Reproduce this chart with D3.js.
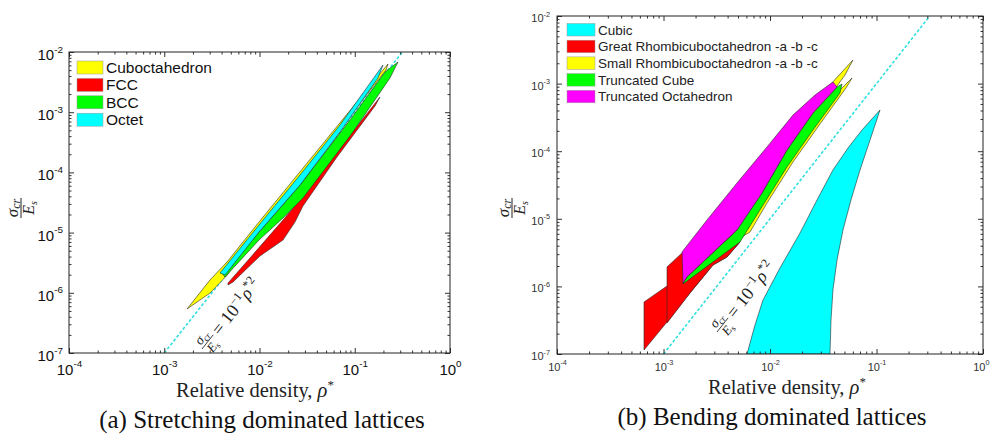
<!DOCTYPE html>
<html>
<head>
<meta charset="utf-8">
<script src="https://cdn.jsdelivr.net/npm/d3@7"></script>
<style>
  body { margin: 0; background: #fff; }
  svg { display: block; }
</style>
</head>
<body>
<svg id="chart" width="990" height="437"></svg>
<script>
// ---------- axis ticks ----------
const rhoTicks = [1e-4, 1e-3, 1e-2, 1e-1, 1];
const rhoTickExp = ["-4", "-3", "-2", "-1", "0"];
const sigmaTicks = [1e-7, 1e-6, 1e-5, 1e-4, 1e-3, 1e-2];
const sigmaTickExp = ["-7", "-6", "-5", "-4", "-3", "-2"];

// reference line  sigma_cr / E_s = 10^-1 rho*^2
const guideCoef = 1e-1;
const guideRho = [1e-3, 0.3163];

// ---------- (a) stretching dominated lattices: envelopes [rho*, sigma_cr/E_s] ----------
const cuboctahedron = [[1.733e-3,5.38e-7],[3.022e-3,1.632e-6],[4.558e-3,3.25e-6],[9.88e-3,1.50e-5],[5.497e-2,4.18e-4],[0.2234,6.32e-3],
  [0.2128,5.02e-3],[5.497e-2,3.20e-4],[9.88e-3,1.105e-5],[4.558e-3,1.95e-6],[3.022e-3,9.9e-7]];
const fcc = [[4.67e-3,1.455e-6],[7.95e-3,3.79e-6],[1.765e-2,1.619e-5],[2.662e-2,3.48e-5],[7.0e-2,2.54e-4],[0.1841,1.789e-3],
  [0.1632,1.268e-3],[6.51e-2,1.80e-4],[2.862e-2,2.77e-5],[2.359e-2,1.50e-5],[1.765e-2,7.53e-6],[1.012e-2,4.09e-6],[5.27e-3,1.511e-6],[4.67e-3,1.348e-6]];
const bcc = [[4.04e-3,2.13e-6],[9.88e-3,1.023e-5],[2.662e-2,6.17e-5],[8.91e-2,7.42e-4],[0.2078,4.65e-3],[0.2844,6.82e-3],
  [0.2345,3.70e-3],[8.91e-2,4.02e-4],[2.862e-2,3.76e-5],[1.765e-2,1.748e-5],[9.88e-3,7.53e-6],[4.342e-3,1.83e-6]];
const octet = [[3.848e-3,2.13e-6],[9.88e-3,1.337e-5],[2.662e-2,9.05e-5],[7.00e-2,6.13e-4],[0.1979,6.08e-3],
  [0.1754,3.70e-3],[7.00e-2,4.69e-4],[2.662e-2,6.17e-5],[9.88e-3,1.023e-5],[4.342e-3,1.975e-6]];
const stretchNames = ["Cuboctahedron", "FCC", "BCC", "Octet"];
const stretchColors = ["#ffff00", "#ff0000", "#00ff00", "#00ffff"];

// ---------- (b) bending dominated lattices ----------
const cubic = [[6.08e-3,1e-7],[7.23e-3,2.69e-7],[8.6e-3,6.3e-7],[1.241e-2,1.872e-6],[1.913e-2,6.17e-6],[2.762e-2,1.90e-5],[3.90e-2,5.27e-5],
  [5.40e-2,1.115e-4],[7.31e-2,2.06e-4],[0.1079,4.07e-4],
  [8.69e-2,1.46e-4],[7.0e-2,5.27e-5],[5.76e-2,1.90e-5],[4.845e-2,6.83e-6],[4.26e-2,2.46e-6],[3.90e-2,8.85e-7],[3.74e-2,3.18e-7],[3.66e-2,1e-7]];
const greatRhombA = [[6.56e-4,1.146e-7],[6.56e-4,5.88e-7],[1.079e-3,1.014e-6],[2.202e-3,2.30e-6],[3.947e-3,3.46e-6],[5.23e-3,4.54e-6],
  [3.947e-3,2.72e-6],[2.915e-3,2.07e-6],[1.773e-3,7.99e-7],[1.079e-3,2.97e-7]];
const greatRhombB = [[1.079e-3,2.87e-7],[1.079e-3,1.94e-6],[1.492e-3,3.12e-6],[2.733e-3,5.76e-6],[5.23e-3,6.83e-6],[5.23e-3,4.54e-6],
  [3.947e-3,2.72e-6],[2.915e-3,2.07e-6],[1.773e-3,7.99e-7]];
const smallRhombA = [[5.23e-3,5.2e-6],[8.05e-3,1.90e-5],[1.444e-2,7.41e-5],[2.534e-2,2.70e-4],[4.54e-2,8.04e-4],[5.89e-2,1.21e-3],
  [5.171e-2,8.61e-4],[2.948e-2,2.53e-4],[1.644e-2,6.92e-5],[9.37e-3,1.713e-5],[6.49e-3,6.38e-6]];
const smallRhombB = [[5.83e-3,8.1e-6],[1.0e-2,3.75e-5],[1.913e-2,2.06e-4],[3.66e-2,9.53e-4],[6.01e-2,2.23e-3],
  [5.06e-2,1.34e-3],[2.823e-2,3.80e-4],[1.541e-2,1.042e-4],[8.05e-3,1.60e-5]];
const truncatedCube = [[1.525e-3,1.12e-6],[1.662e-3,1.38e-6],[4.90e-3,6.83e-6],[8.41e-3,2.41e-5],[1.444e-2,1.042e-4],[2.534e-2,3.67e-4],
  [4.26e-2,8.91e-4],[4.745e-2,9.86e-4],[4.54e-2,7.26e-4],[2.534e-2,2.06e-4],[1.444e-2,5.84e-5],[8.05e-3,1.35e-5],[5.23e-3,4.54e-6],[1.525e-3,1.085e-6]];
const truncatedOcta = [[1.492e-3,3.23e-6],[2.562e-3,9.6e-6],[4.90e-3,3.39e-5],[9.37e-3,1.154e-4],[1.644e-2,3.43e-4],[2.645e-2,6.78e-4],
  [3.90e-2,1.056e-3],[4.26e-2,8.91e-4],[2.534e-2,3.67e-4],[1.444e-2,1.042e-4],[8.41e-3,2.41e-5],[4.90e-3,6.83e-6],[1.662e-3,1.38e-6],[1.525e-3,1.12e-6]];
const bendNames = ["Cubic", "Great Rhombicuboctahedron -a -b -c", "Small Rhombicuboctahedron -a -b -c", "Truncated Cube", "Truncated Octahedron"];
const bendColors = ["#00ffff", "#ff0000", "#ffff00", "#00ff00", "#ff00ff"];

// ---------- drawing ----------
const svg = d3.select("#chart");
const serif = "'Liberation Serif', 'DejaVu Serif', serif";
const sans = "'Liberation Sans', Arial, sans-serif";

const stretchSeries = [
  { color: stretchColors[0], polys: [cuboctahedron] },
  { color: stretchColors[1], polys: [fcc] },
  { color: stretchColors[2], polys: [bcc] },
  { color: stretchColors[3], polys: [octet] }
];
const bendSeries = [
  { color: bendColors[0], polys: [cubic] },
  { color: bendColors[1], polys: [greatRhombA, greatRhombB] },
  { color: bendColors[2], polys: [smallRhombA, smallRhombB] },
  { color: bendColors[3], polys: [truncatedCube] },
  { color: bendColors[4], polys: [truncatedOcta] }
];

function minorTicks(lo, hi) {
  const out = [];
  for (let e = lo; e < hi; e++) for (let m = 2; m <= 9; m++) out.push(m * Math.pow(10, e));
  return out;
}

function drawPanel(cfg) {
  const x = d3.scaleLog().domain([1e-4, 1]).range([cfg.x0, cfg.x1]);
  const y = d3.scaleLog().domain([1e-7, 1e-2]).range([cfg.y1, cfg.y0]);
  const g = svg.append("g");
  const clipId = "clip-" + cfg.id;
  svg.append("clipPath").attr("id", clipId).append("rect")
    .attr("x", cfg.x0).attr("y", cfg.y0).attr("width", cfg.x1 - cfg.x0).attr("height", cfg.y1 - cfg.y0);
  const plot = g.append("g").attr("clip-path", `url(#${clipId})`);

  // reference line
  const guidePts = guideRho.map(r => [r, guideCoef * r * r]);
  plot.append("path")
    .attr("d", d3.line().x(d => x(d[0])).y(d => y(d[1]))(guidePts))
    .attr("fill", "none").attr("stroke", "#2fe0e0").attr("stroke-width", 1.6)
    .attr("stroke-dasharray", "3,2");

  // lattice envelopes
  const line = d3.line().x(d => x(d[0])).y(d => y(d[1]));
  cfg.series.forEach(s => {
    s.polys.forEach(p => {
      plot.append("path").attr("d", line(p) + "Z")
        .attr("fill", s.color).attr("stroke", "#2a2a2a").attr("stroke-width", 0.6)
        .attr("stroke-linejoin", "round");
    });
  });

  // axes (ticks on all four sides, pointing inward)
  const tickCol = cfg.textColor;
  function styleAxis(sel) {
    sel.select(".domain").remove();
    sel.selectAll(".tick line").attr("stroke", "#333");
  }
  function supLabels(sel, exps) {
    sel.selectAll(".tick text").each(function (d, i) {
      const t = d3.select(this);
      t.text(null).attr("fill", tickCol).attr("font-family", sans).attr("font-size", cfg.tickFont);
      t.append("tspan").text("10");
      t.append("tspan").attr("font-size", cfg.tickFont * 0.66).attr("dy", "-0.75em").text(exps[i]);
    });
  }
  const minorX = minorTicks(-4, 0), minorY = minorTicks(-7, -2);

  const bottom = g.append("g").attr("transform", `translate(0,${cfg.y1})`)
    .call(d3.axisBottom(x).tickValues(rhoTicks).tickSize(-5).tickPadding(cfg.xPad));
  styleAxis(bottom); supLabels(bottom, rhoTickExp);
  if (cfg.lastXLabelEnd) {
    // keep the last label inside the page
    bottom.selectAll(".tick text").filter((d, i) => i === rhoTicks.length - 1)
      .attr("text-anchor", "end").attr("x", 989 - cfg.x1);
  }
  const left = g.append("g").attr("transform", `translate(${cfg.x0},0)`)
    .call(d3.axisLeft(y).tickValues(sigmaTicks).tickSize(-5).tickPadding(cfg.yPad));
  styleAxis(left); supLabels(left, sigmaTickExp);
  left.selectAll(".tick text").attr("dy", "0.5em");

  const top = g.append("g").attr("transform", `translate(0,${cfg.y0})`)
    .call(d3.axisTop(x).tickValues(rhoTicks).tickSize(-5).tickFormat(""));
  styleAxis(top);
  const right = g.append("g").attr("transform", `translate(${cfg.x1},0)`)
    .call(d3.axisRight(y).tickValues(sigmaTicks).tickSize(-5).tickFormat(""));
  styleAxis(right);

  [[d3.axisBottom(x), `translate(0,${cfg.y1})`, minorX],
   [d3.axisTop(x), `translate(0,${cfg.y0})`, minorX],
   [d3.axisLeft(y), `translate(${cfg.x0},0)`, minorY],
   [d3.axisRight(y), `translate(${cfg.x1},0)`, minorY]].forEach(([ax, tr, vals]) => {
    const m = g.append("g").attr("transform", tr)
      .call(ax.tickValues(vals).tickSize(-2.5).tickFormat(""));
    styleAxis(m);
  });

  g.append("rect").attr("x", cfg.x0).attr("y", cfg.y0)
    .attr("width", cfg.x1 - cfg.x0).attr("height", cfg.y1 - cfg.y0)
    .attr("fill", "none").attr("stroke", "#222").attr("stroke-width", 1);

  // legend
  const lg = g.append("g");
  cfg.legendNames.forEach((n, i) => {
    const yy = cfg.leg.y + i * cfg.leg.step;
    lg.append("rect").attr("x", cfg.leg.x).attr("y", yy).attr("width", cfg.leg.w).attr("height", cfg.leg.h)
      .attr("fill", cfg.series[i].color).attr("stroke", "#999").attr("stroke-width", 0.5);
    lg.append("text").attr("x", cfg.leg.x + cfg.leg.w + 3).attr("y", yy + cfg.leg.h / 2)
      .attr("dy", "0.36em").attr("font-family", sans).attr("font-size", cfg.leg.font)
      .attr("fill", cfg.legendColor).text(n);
  });

  // y-axis label: sigma_cr / E_s
  const yl = g.append("g").attr("transform", `translate(${cfg.ylab[0]},${cfg.ylab[1]}) rotate(-90)`);
  const num = yl.append("text").attr("x", 0).attr("y", -3).attr("text-anchor", "middle")
    .attr("font-family", serif).attr("font-style", "italic").attr("font-size", 17).attr("fill", "#222");
  num.append("tspan").text("σ");
  num.append("tspan").attr("font-size", 12).attr("dy", "0.2em").text("cr");
  yl.append("line").attr("x1", -10).attr("x2", 10).attr("y1", 0).attr("y2", 0).attr("stroke", "#222").attr("stroke-width", 1);
  const den = yl.append("text").attr("x", 0).attr("y", 13).attr("text-anchor", "middle")
    .attr("font-family", serif).attr("font-style", "italic").attr("font-size", 16).attr("fill", "#222");
  den.append("tspan").text("E");
  den.append("tspan").attr("font-size", 10).attr("dy", "0.25em").text("s");

  // x-axis label and caption
  const xl = g.append("text").attr("x", cfg.xlab[0]).attr("y", cfg.xlab[1]).attr("text-anchor", "middle")
    .attr("font-family", serif).attr("font-size", 20.5).attr("fill", "#222");
  xl.append("tspan").text("Relative density, ");
  xl.append("tspan").attr("font-style", "italic").text("ρ");
  xl.append("tspan").attr("font-size", 13).attr("dy", "-0.6em").text("*");
  g.append("text").attr("x", cfg.cap[0]).attr("y", cfg.cap[1]).attr("text-anchor", "middle")
    .attr("font-family", serif).attr("font-size", 25).attr("fill", "#111").text(cfg.caption);

  // label of the reference line, rotated along it
  const ang = -Math.atan2(y(guidePts[0][1]) - y(guidePts[1][1]), x(guidePts[1][0]) - x(guidePts[0][0])) * 180 / Math.PI;
  const gl = g.append("g").attr("transform", `translate(${cfg.glab[0]},${cfg.glab[1]}) rotate(${ang})`)
    .attr("font-family", serif).attr("fill", "#222");
  const gn = gl.append("text").attr("x", 9).attr("y", -3).attr("text-anchor", "middle").attr("font-size", 14).attr("font-style", "italic");
  gn.append("tspan").text("σ");
  gn.append("tspan").attr("font-size", 9).attr("dy", "0.25em").text("cr");
  gl.append("line").attr("x1", 0).attr("x2", 18).attr("y1", 0).attr("y2", 0).attr("stroke", "#222").attr("stroke-width", 0.8);
  const gd = gl.append("text").attr("x", 9).attr("y", 11).attr("text-anchor", "middle").attr("font-size", 13).attr("font-style", "italic");
  gd.append("tspan").text("E");
  gd.append("tspan").attr("font-size", 9).attr("dy", "0.25em").text("s");
  const ge = gl.append("text").attr("x", 21).attr("y", 6).attr("font-size", 18);
  ge.append("tspan").text("= 10");
  ge.append("tspan").attr("font-size", 12).attr("dy", -7).text("−1");
  ge.append("tspan").attr("font-style", "italic").attr("dy", 7).text("ρ");
  ge.append("tspan").attr("font-size", 12).attr("dy", -7).text("*2");
}

drawPanel({
  id: "a", x0: 69, x1: 450, y0: 52, y1: 353,
  series: stretchSeries, legendNames: stretchNames,
  tickFont: 15, xPad: 11, yPad: 6, textColor: "#111",
  leg: { x: 77, y: 61, step: 17.4, w: 26, h: 13, font: 15.5 }, legendColor: "#111",
  ylab: [21, 208], xlab: [255, 397], cap: [262, 428],
  glab: [202, 349],
  caption: "(a) Stretching dominated lattices"
});

drawPanel({
  id: "b", x0: 557, x1: 983, y0: 16, y1: 354,
  series: bendSeries, legendNames: bendNames,
  tickFont: 11, xPad: 9, yPad: 7, textColor: "#333", lastXLabelEnd: true,
  leg: { x: 567, y: 23.5, step: 16.7, w: 28, h: 12.5, font: 13.5 }, legendColor: "#222",
  ylab: [512, 208], xlab: [787, 394], cap: [772, 425],
  glab: [717, 332],
  caption: "(b) Bending dominated lattices"
});
</script>
</body>
</html>
